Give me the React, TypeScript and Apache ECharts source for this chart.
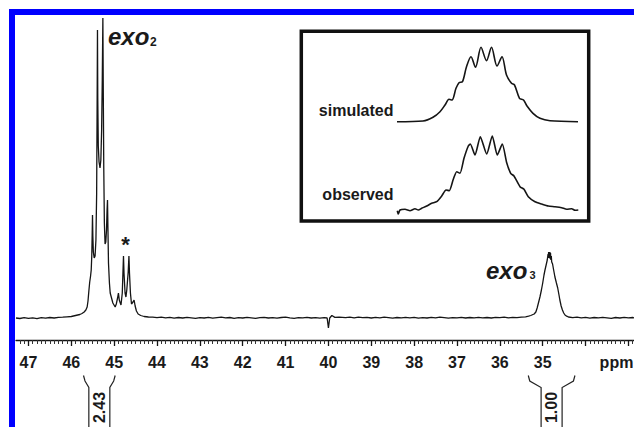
import React, { useEffect, useRef } from "react";
import * as echarts from "echarts";

// ---------- data ----------
const majorTicks = [33, 34, 35, 36, 37, 38, 39, 40, 41, 42, 43, 44, 45, 46, 47];
const tickLabels = [35, 36, 37, 38, 39, 40, 41, 42, 43, 44, 45, 46, 47];

// 31P spectrum: [ppm, intensity]
const spectrum: [number, number][] = [
  [47.29, 0], [47.2, -0.5], [47.1, 0.3], [47.0, -0.4], [46.9, 0.2], [46.8, -0.6], [46.7, 0.4], [46.6, -0.2],
  [46.5, 0.5], [46.4, 0], [46.3, 0.6], [46.2, 0.8], [46.1, 1.2], [46.0, 1.5], [45.95, 2], [45.9, 2.5],
  [45.85, 3], [45.8, 3.5], [45.75, 4.5], [45.7, 6], [45.66, 8], [45.63, 11], [45.61, 17], [45.59, 27],
  [45.57, 36], [45.55, 42], [45.535, 48], [45.522, 62], [45.513, 82], [45.505, 103], [45.497, 82],
  [45.485, 66], [45.465, 60], [45.445, 62], [45.425, 78], [45.408, 125], [45.397, 215], [45.389, 288],
  [45.382, 220], [45.37, 172], [45.352, 156], [45.33, 150], [45.31, 158], [45.292, 188], [45.277, 238],
  [45.263, 300], [45.255, 238], [45.242, 150], [45.228, 95], [45.212, 74], [45.195, 76], [45.178, 88],
  [45.165, 108], [45.155, 118], [45.145, 90], [45.132, 55], [45.11, 35], [45.092, 25], [45.03, 15],
  [44.976, 11], [44.95, 14], [44.92, 20], [44.9, 25], [44.88, 18], [44.84, 13], [44.81, 25], [44.795, 45],
  [44.782, 62], [44.77, 45], [44.745, 25], [44.725, 21], [44.705, 28], [44.672, 46], [44.655, 62],
  [44.642, 45], [44.62, 25], [44.595, 14], [44.56, 16], [44.535, 18], [44.51, 12], [44.48, 7], [44.44, 4],
  [44.38, 2.5], [44.3, 1.5], [44.2, 1], [44.1, 0.8], [44.0, 0.3], [43.9, 0.8], [43.8, 0.2], [43.7, 0.6],
  [43.6, -0.2], [43.5, 0.5], [43.4, 0], [43.3, 0.7], [43.2, 0.2], [43.1, -0.3], [43.0, 0.4], [42.9, 0],
  [42.8, 0.6], [42.7, -0.2], [42.6, 0.3], [42.5, 0.8], [42.4, 0.1], [42.3, 0.5], [42.2, -0.3], [42.1, 0.4],
  [42.0, 0], [41.9, 0.6], [41.8, 0.1], [41.7, -0.4], [41.6, 0.3], [41.5, 0.7], [41.4, 0], [41.3, 0.4],
  [41.2, -0.2], [41.1, 0.5], [41.0, 0.9], [40.9, 0.2], [40.8, -0.3], [40.7, 0.4], [40.6, 0.1], [40.5, 0.6],
  [40.4, 0], [40.3, 0.3], [40.2, -0.2], [40.1, 0.4], [40.03, 0], [40.0, -10], [39.97, 0], [39.92, 2.5],
  [39.85, 0.6], [39.75, 0.9], [39.6, 0.3], [39.5, 0.8], [39.4, 0.2], [39.3, 0.9], [39.2, 0.3], [39.1, 0.6],
  [39.0, 0], [38.9, 0.7], [38.8, 0.2], [38.7, 0.8], [38.6, 0.3], [38.5, -0.2], [38.4, 0.5], [38.3, 0.1],
  [38.2, 0.7], [38.1, 0.2], [38.0, 0.6], [37.9, -0.1], [37.8, 0.4], [37.7, 0], [37.6, 0.6], [37.5, 0.2],
  [37.4, 0.8], [37.3, 0.3], [37.2, -0.2], [37.1, 0.4], [37.0, 0.1], [36.9, 0.6], [36.8, 0], [36.7, 0.5],
  [36.6, 0.2], [36.5, 0.7], [36.4, 0.1], [36.3, 0.5], [36.2, 0], [36.1, 0.6], [36.0, 0.3], [35.9, 0.8],
  [35.8, 0.2], [35.7, 0.6], [35.6, 0.4], [35.5, 0.9], [35.4, 1.2], [35.33, 1.8], [35.28, 2.5], [35.2, 4],
  [35.16, 6], [35.13, 10], [35.1, 15], [35.065, 21], [35.03, 28], [35.0, 35], [34.97, 43], [34.947, 48],
  [34.92, 53], [34.894, 58], [34.875, 64], [34.87, 60], [34.862, 66], [34.855, 61], [34.848, 66],
  [34.84, 60], [34.832, 66], [34.825, 59], [34.818, 65], [34.81, 58], [34.8, 62], [34.79, 56], [34.77, 54],
  [34.745, 48], [34.715, 41], [34.68, 35], [34.65, 30], [34.62, 23], [34.6, 18], [34.57, 12], [34.54, 8],
  [34.51, 5], [34.48, 3], [34.44, 1.8], [34.4, 1], [34.3, 0.4], [34.2, 0.8], [34.1, 0.1], [34.0, 0.6],
  [33.9, -0.2], [33.8, 0.5], [33.7, 0.1], [33.6, 0.7], [33.5, 0.2], [33.4, -0.3], [33.3, 0.5], [33.2, 0],
  [33.1, 0.6], [33.0, 0.2], [32.9, 0.5], [32.87, 0.2],
];

// inset traces: [position, intensity]
const simulated: [number, number][] = [
  [397, 93.3], [423, 94], [433, 97.7], [440, 103.3], [445, 110], [449, 115.7], [452, 115], [456, 126.7],
  [459, 132.3], [462.5, 133.3], [466.5, 148.3], [471, 158.3], [475.5, 147.7], [481, 167.7], [486.5, 154.3],
  [491.5, 167.7], [497, 149], [502, 158.3], [506.5, 140], [511.5, 131.7], [514.5, 130], [519.5, 116.7],
  [523.5, 115], [527, 109], [533, 101.7], [540, 96.7], [550, 94.3], [578, 93.3],
];
const observed: [number, number][] = [
  [397.3, 4.3], [398.3, 1], [400, 5], [405, 5.7], [410, 4.3], [415, 6.3], [418.3, 5], [421.7, 6.7],
  [426.7, 9], [431.7, 11.7], [436.7, 13.3], [441.7, 19], [446, 25], [449.3, 24.3], [453.3, 35.7],
  [456.7, 43.3], [460, 41.7], [464, 56.7], [468.3, 69], [470.3, 71], [475, 60], [480.3, 78.3], [486.7, 61],
  [492.3, 79], [497.3, 60], [502.3, 71], [506.7, 52.3], [510.7, 41.7], [514, 39], [520, 28.3], [524, 25.7],
  [528.3, 18.3], [535, 13.3], [541.7, 11], [548.3, 9], [555, 8.3], [561.7, 7.3], [566.7, 5.7], [571.7, 6.3],
  [575, 4.7], [578.3, 5],
];

const integrals = [
  { from: 45.715, to: 44.976, label: "2.43" },
  { from: 35.337, to: 34.248, label: "1.00" },
];

const FONT = "'Liberation Sans', Arial, Helvetica, sans-serif";
const INK = "#151515";

export default function App() {
  const ref = useRef<HTMLDivElement>(null);

  useEffect(() => {
    const chart = echarts.init(ref.current!, undefined, { renderer: "svg" });
    const minor: number[] = [];
    for (let i = 329; i <= 472; i++) if (i % 10 !== 0) minor.push(i / 10);

    chart.setOption({
      animation: false,
      backgroundColor: "#ffffff",
      grid: [
        { left: 16, right: 0, top: 16, bottom: 87 },
        { left: 396, right: 55, top: 40, bottom: 212 },
      ],
      xAxis: [
        {
          type: "value", gridIndex: 0, min: 32.87, max: 47.29, inverse: true, position: "bottom",
          splitLine: { show: false },
          axisLine: { show: true, onZero: false, lineStyle: { color: INK, width: 1.3 } },
          axisTick: { show: true, customValues: majorTicks, length: 6, lineStyle: { color: INK, width: 1.3 } },
          axisLabel: {
            show: true, customValues: tickLabels, margin: 14, fontSize: 16, fontWeight: "bold",
            fontFamily: FONT, color: "#1a1a1a",
          },
        },
        {
          type: "value", gridIndex: 0, min: 32.87, max: 47.29, inverse: true, position: "bottom",
          splitLine: { show: false },
          axisLine: { show: false, onZero: false },
          axisTick: { show: true, customValues: minor, length: 4, lineStyle: { color: "#333", width: 1 } },
          axisLabel: { show: false },
        },
        {
          type: "value", gridIndex: 1, min: 396, max: 579, show: false,
        },
      ],
      yAxis: [
        { type: "value", gridIndex: 0, min: -22, max: 302, show: false },
        { type: "value", gridIndex: 1, min: 0, max: 175, show: false },
      ],
      series: [
        {
          type: "line", xAxisIndex: 0, yAxisIndex: 0, data: spectrum, symbol: "none", silent: true,
          lineStyle: { color: INK, width: 1.3 },
        },
        {
          type: "line", xAxisIndex: 2, yAxisIndex: 1, data: simulated, symbol: "none", silent: true,
          smooth: 0.3, lineStyle: { color: INK, width: 1.6 },
        },
        {
          type: "line", xAxisIndex: 2, yAxisIndex: 1, data: observed, symbol: "none", silent: true,
          smooth: 0.2, lineStyle: { color: INK, width: 1.6 },
        },
      ],
    });

    const px = (v: number) => chart.convertToPixel({ xAxisIndex: 0 }, v) as number;

    const g: any[] = [
      { type: "rect", shape: { x: 9, y: 9, width: 625, height: 6 }, style: { fill: "#0000ff" }, z: 100 },
      { type: "rect", shape: { x: 9, y: 9, width: 6, height: 418 }, style: { fill: "#0000ff" }, z: 100 },
      {
        type: "rect", shape: { x: 301.3, y: 31.3, width: 287.4, height: 189.7 },
        style: { fill: "transparent", stroke: "#111", lineWidth: 3.5 }, z: 50,
      },
      {
        type: "text", x: 393.5, y: 110,
        style: { text: "simulated", fontSize: 16, fontWeight: "bold", fontFamily: FONT, fill: "#1a1a1a", align: "right", verticalAlign: "middle" },
      },
      {
        type: "text", x: 393.5, y: 194.5,
        style: { text: "observed", fontSize: 16, fontWeight: "bold", fontFamily: FONT, fill: "#1a1a1a", align: "right", verticalAlign: "middle" },
      },
      {
        type: "text", x: 616.5, y: 362.5,
        style: { text: "ppm", fontSize: 16, fontWeight: "bold", fontFamily: FONT, fill: "#1a1a1a", align: "center", verticalAlign: "middle" },
      },
      {
        type: "text", x: 108, y: 36.7,
        style: { text: "exo", fontSize: 24, fontWeight: "bold", fontStyle: "italic", fontFamily: FONT, fill: "#1a1a1a", align: "left", verticalAlign: "middle" },
      },
      {
        type: "text", x: 150, y: 41.5,
        style: { text: "2", fontSize: 12, fontWeight: "bold", fontFamily: FONT, fill: "#1a1a1a", align: "left", verticalAlign: "middle" },
      },
      {
        type: "text", x: 486, y: 270,
        style: { text: "exo", fontSize: 24, fontWeight: "bold", fontStyle: "italic", fontFamily: FONT, fill: "#1a1a1a", align: "left", verticalAlign: "middle" },
      },
      {
        type: "text", x: 529.5, y: 274.5,
        style: { text: "3", fontSize: 11, fontWeight: "bold", fontFamily: FONT, fill: "#1a1a1a", align: "left", verticalAlign: "middle" },
      },
      {
        type: "text", x: 125.5, y: 244,
        style: { text: "*", fontSize: 22, fontWeight: "bold", fontFamily: FONT, fill: "#1a1a1a", align: "center", verticalAlign: "middle" },
      },
    ];

    integrals.forEach((it) => {
      const xl = px(it.from);
      const xr = px(it.to);
      const c = (xl + xr) / 2;
      const il = c - 10.5;
      const ir = c + 10.5;
      g.push({
        type: "polyline",
        shape: { points: [[xl, 375.5], [xl + 1.5, 381], [il, 387.5], [il, 430]] },
        style: { stroke: "#222", lineWidth: 1.2, fill: "none" },
      });
      g.push({
        type: "polyline",
        shape: { points: [[xr, 375.5], [xr - 1.5, 381], [ir, 387.5], [ir, 430]] },
        style: { stroke: "#222", lineWidth: 1.2, fill: "none" },
      });
      g.push({
        type: "text", x: c, y: 407.5, rotation: Math.PI / 2,
        style: { text: it.label, fontSize: 16, fontWeight: "bold", fontFamily: FONT, fill: "#1a1a1a", align: "center", verticalAlign: "middle" },
      });
    });

    chart.setOption({ graphic: g });
    return () => chart.dispose();
  }, []);

  return (
    <div
      ref={ref}
      style={{ position: "fixed", left: 0, top: 0, width: 634, height: 427, background: "#fff" }}
    />
  );
}
